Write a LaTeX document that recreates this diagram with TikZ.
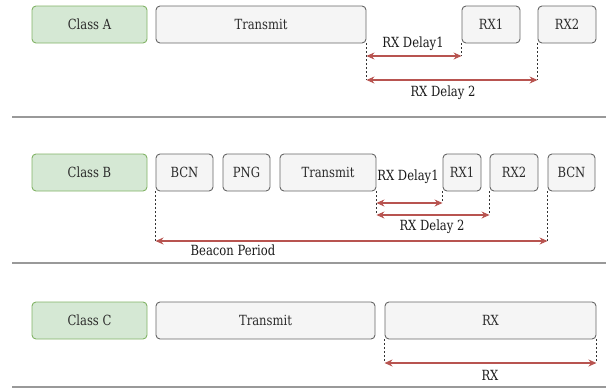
\documentclass[tikz,border=0pt]{standalone}
\usepackage{fontspec}
\setmainfont[FakeStretch=0.92]{DejaVu Serif Condensed}
\usetikzlibrary{arrows.meta}
\definecolor{gfill}{HTML}{D5E8D4}
\definecolor{gdraw}{HTML}{82B366}
\definecolor{bfill}{HTML}{F5F5F5}
\definecolor{bdraw}{HTML}{666666}
\definecolor{btext}{HTML}{2B2B2B}
\definecolor{dred}{HTML}{B85450}
\definecolor{sepc}{HTML}{999999}
\newcommand\boxat[7]{\node[#1,minimum width={#5-#3},minimum height={#6-#4}] (#2) at ({(#3+#5)/2},{(#4+#6)/2}) {#7};}
\begin{document}
\begin{tikzpicture}[x=1pt,y=-1pt,
 box/.style={draw=bdraw,fill=bfill,text=btext,rounded corners=4pt,line width=0.9pt,inner sep=0pt,font=\fontsize{14}{16}\selectfont},
 cls/.style={box,draw=gdraw,fill=gfill},
 guide/.style={dash pattern=on 2pt off 2pt,line width=0.6pt,draw=black!80},
 dim/.style={draw=dred,line width=1.1pt,{Stealth[length=8pt,width=7pt]}-{Stealth[length=8pt,width=7pt]}},
 lbl/.style={font=\fontsize{14}{16}\selectfont,inner sep=0pt,text=black!90},
 sepl/.style={draw=sepc,line width=2pt}]
\useasboundingbox (0,0) rectangle (606,389);
% Row A
\boxat{cls}{cA}{32}{6}{147}{43}{Class A}
\boxat{box}{tA}{156}{6}{366}{43}{Transmit}
\boxat{box}{r1A}{462}{6}{520}{43}{RX1}
\boxat{box}{r2A}{538}{6}{596}{43}{RX2}
\coordinate (yA1) at (0,56);
\coordinate (yA2) at (0,80);
\draw[guide] (tA.south east) -- (tA.south east |- yA2);
\draw[guide] (r1A.south west) -- (r1A.south west |- yA1);
\draw[guide] (r2A.south west) -- (r2A.south west |- yA2);
\draw[dim] (tA.south east |- yA1) -- (r1A.south west |- yA1);
\draw[dim] (tA.south east |- yA2) -- (r2A.south west |- yA2);
\node[lbl] (lA1) at (413,44) {RX Delay1};
\node[lbl] (lA2) at (443,93) {RX Delay 2};
\coordinate (s1l) at (12,117); \coordinate (s1r) at (606,117);
\draw[sepl] (s1l) -- (s1r);
% Row B
\boxat{cls}{cB}{32}{154}{147}{191}{Class B}
\boxat{box}{bcn1}{156}{154}{213}{191}{BCN}
\boxat{box}{png}{223}{154}{270}{191}{PNG}
\boxat{box}{tB}{280}{154}{376}{191}{Transmit}
\boxat{box}{r1B}{443}{154}{481}{191}{RX1}
\boxat{box}{r2B}{490}{154}{538}{191}{RX2}
\boxat{box}{bcn2}{548}{154}{595}{191}{BCN}
\coordinate (yB1) at (0,203);
\coordinate (yB2) at (0,215);
\coordinate (yB3) at (0,241);
\draw[guide] (tB.south east) -- (tB.south east |- yB2);
\draw[guide] (r1B.south west) -- (r1B.south west |- yB1);
\draw[guide] (r2B.south west) -- (r2B.south west |- yB2);
\draw[guide] (bcn1.south west) -- (bcn1.south west |- yB3);
\draw[guide] (bcn2.south west) -- (bcn2.south west |- yB3);
\draw[dim] (tB.south east |- yB1) -- (r1B.south west |- yB1);
\draw[dim] (tB.south east |- yB2) -- (r2B.south west |- yB2);
\draw[dim] (bcn1.south west |- yB3) -- (bcn2.south west |- yB3);
\node[lbl] (lB1) at (408,177) {RX Delay1};
\node[lbl] (lB2) at (432,227) {RX Delay 2};
\node[lbl] (lB3) at (233,250) {Beacon Period};
\coordinate (s2l) at (12,263); \coordinate (s2r) at (606,263);
\draw[sepl] (s2l) -- (s2r);
% Row C
\boxat{cls}{cC}{32}{302}{147}{339}{Class C}
\boxat{box}{tC}{156}{302}{375}{339}{Transmit}
\boxat{box}{rxC}{385}{302}{596}{339}{RX}
\coordinate (yC) at (0,363);
\draw[guide] (rxC.south west) -- (rxC.south west |- yC);
\draw[guide] (rxC.south east) -- (rxC.south east |- yC);
\draw[dim] (rxC.south west |- yC) -- (rxC.south east |- yC);
\node[lbl] (lC) at (490,375) {RX};
\coordinate (s3l) at (12,387); \coordinate (s3r) at (606,387);
\draw[sepl] (s3l) -- (s3r);
\end{tikzpicture}
\end{document}
